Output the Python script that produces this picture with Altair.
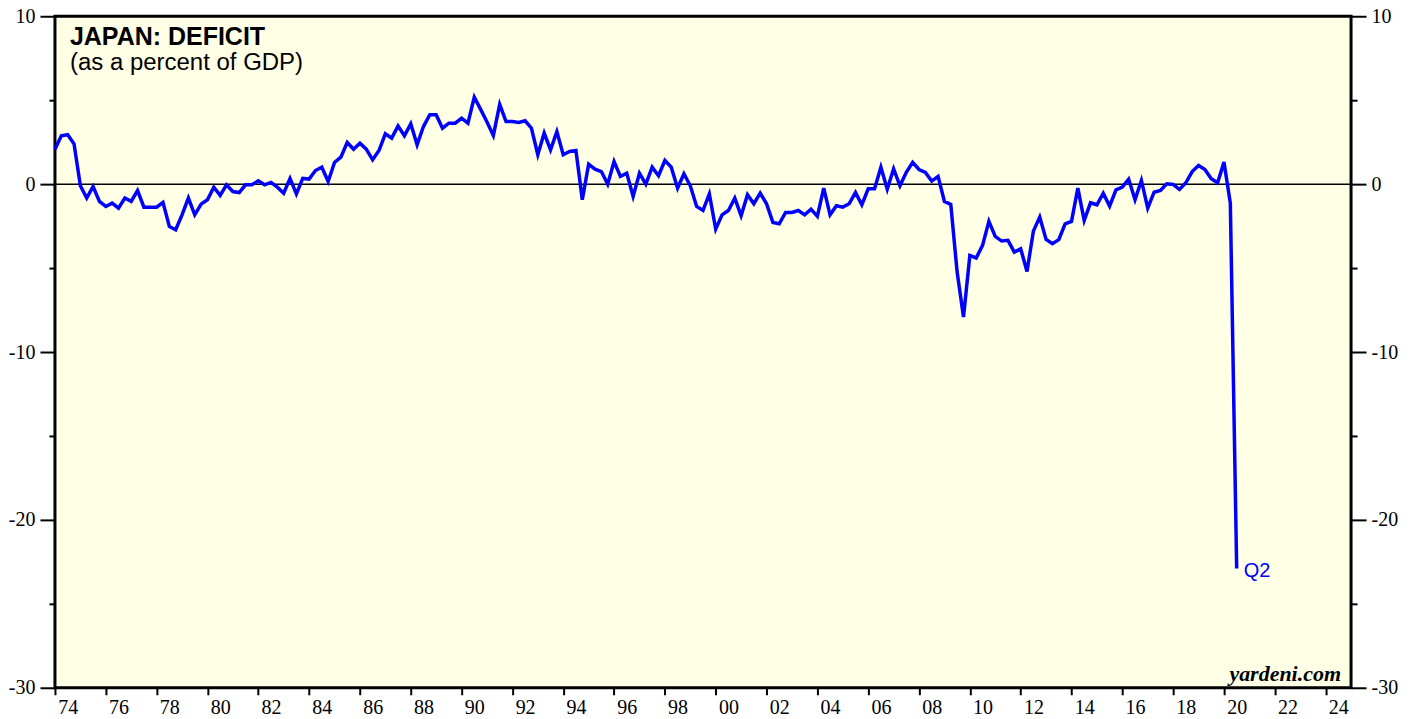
import altair as alt
import pandas as pd

# ---- data (quarterly) ----
start_year = 1974.0
quarter_step = 0.25
deficit = [
    2.08, 2.88, 2.94, 2.40, -0.10, -0.83, -0.14, -1.03, -1.33, -1.13,
    -1.43, -0.83, -1.03, -0.38, -1.37, -1.37, -1.37, -1.09, -2.52, -2.72,
    -1.83, -0.83, -1.83, -1.19, -0.93, -0.18, -0.67, -0.04, -0.44, -0.50,
    -0.04, -0.04, 0.20, -0.04, 0.10, -0.18, -0.54, 0.34, -0.58, 0.34,
    0.30, 0.81, 1.01, 0.16, 1.29, 1.61, 2.48, 2.08, 2.44, 2.08,
    1.45, 2.00, 3.00, 2.74, 3.47, 2.88, 3.59, 2.34, 3.43, 4.13,
    4.13, 3.33, 3.63, 3.63, 3.93, 3.63, 5.18, 4.45, 3.70, 2.90,
    4.75, 3.73, 3.73, 3.67, 3.77, 3.33, 1.75, 3.04, 2.04, 3.13,
    1.75, 1.94, 2.00, -0.93, 1.19, 0.89, 0.75, 0.00, 1.35, 0.46,
    0.65, -0.73, 0.65, 0.00, 1.01, 0.50, 1.41, 1.01, -0.24, 0.62,
    -0.10, -1.33, -1.57, -0.58, -2.68, -1.83, -1.57, -0.83, -1.88, -0.63,
    -1.17, -0.54, -1.17, -2.28, -2.36, -1.69, -1.69, -1.57, -1.83, -1.49,
    -1.92, -0.24, -1.83, -1.29, -1.37, -1.17, -0.50, -1.23, -0.28, -0.28,
    1.01, -0.30, 0.91, -0.10, 0.70, 1.30, 0.87, 0.70, 0.18, 0.46,
    -1.03, -1.21, -5.24, -7.92, -4.25, -4.40, -3.65, -2.22, -3.11, -3.39,
    -3.35, -4.05, -3.85, -5.20, -2.80, -1.96, -3.29, -3.55, -3.31, -2.36,
    -2.22, -0.24, -2.16, -1.11, -1.23, -0.54, -1.31, -0.34, -0.18, 0.30,
    -0.93, 0.22, -1.43, -0.48, -0.38, 0.02, -0.02, -0.32, 0.08, 0.75,
    1.11, 0.87, 0.32, 0.08, 1.31, -1.13, -22.90,
]
periods = [start_year + i * quarter_step for i in range(len(deficit))]
last_label = "Q2"
title_text = "JAPAN: DEFICIT"
subtitle_text = "(as a percent of GDP)"
source_text = "yardeni.com"
x_domain = [1974, 2025]
y_domain = [-30, 10]
x_tick_years = list(range(1974, 2026))
y_ticks = list(range(-30, 11, 5))
zero_level = [0]

df = pd.DataFrame({"t": periods, "v": deficit})
last = df.tail(1).assign(lab=last_label)
zero_df = pd.DataFrame({"z": zero_level})

W, H = 1297, 672
SERIF = "Liberation Serif"
SANS = "Liberation Sans"

xscale = alt.Scale(domain=x_domain, nice=False, zero=False)
yscale = alt.Scale(domain=y_domain, nice=False, zero=False)

xaxis = alt.Axis(
    values=x_tick_years,
    labelExpr="datum.value % 2 == 0 && datum.value < 2025 ? substring(toString(datum.value), 2, 4) : ''",
    labelOffset=W / 51 / 2,
    tickSize=7, tickWidth=2, tickColor="black",
    domain=False, grid=False, title=None,
    labelFont=SERIF, labelFontSize=20, labelColor="black", labelPadding=3,
    labelOverlap=False, labelFlush=False, labelBound=False,
)


def yaxis(orient):
    return alt.Axis(
        orient=orient,
        values=y_ticks,
        labelExpr="datum.value % 10 == 0 ? toString(datum.value) : ''",
        tickSize={"condition": {"test": "datum.value % 10 == 0", "value": 15}, "value": 6},
        tickWidth=2, tickColor="black",
        domain=False, grid=False, title=None,
        labelFont=SERIF, labelFontSize=20, labelColor="black", labelPadding=5,
        labelOverlap=False, labelFlush=False, labelBound=False,
    )


rule = alt.Chart(zero_df).mark_rule(color="black", strokeWidth=1.5).encode(
    y=alt.Y("z:Q", scale=yscale, axis=yaxis("right"))
)

line = alt.Chart(df).mark_line(color="#0000FF", strokeWidth=3.5).encode(
    x=alt.X("t:Q", scale=xscale, axis=xaxis),
    y=alt.Y("v:Q", scale=yscale, axis=yaxis("left")),
)

q2 = alt.Chart(last).mark_text(
    align="left", baseline="middle", dx=7, dy=2, font=SANS, fontSize=20, color="#0000FF"
).encode(x="t:Q", y="v:Q", text="lab:N")

t1 = alt.Chart(pd.DataFrame({"s": [title_text]})).mark_text(
    align="left", baseline="alphabetic", font=SANS, fontSize=25, fontWeight="bold", color="black"
).encode(x=alt.value(15), y=alt.value(29), text="s:N")

t2 = alt.Chart(pd.DataFrame({"s": [subtitle_text]})).mark_text(
    align="left", baseline="alphabetic", font=SANS, fontSize=24, color="black"
).encode(x=alt.value(15), y=alt.value(54), text="s:N")

t3 = alt.Chart(pd.DataFrame({"s": [source_text]})).mark_text(
    align="right", baseline="alphabetic", font=SERIF, fontSize=22, fontWeight="bold",
    fontStyle="italic", color="black"
).encode(x=alt.value(W - 10), y=alt.value(H - 7), text="s:N")

inner = alt.layer(line, q2, t1, t2, t3)

chart = (
    alt.layer(rule, inner)
    .resolve_scale(y="independent")
    .properties(
        width=W, height=H,
        autosize=alt.AutoSizeParams(type="none"),
        padding={"left": 47, "top": 8, "right": 60, "bottom": 30},
        background="white",
    )
    .configure_view(stroke="black", strokeWidth=3, fill="#FFFFE6")
)

chart.save("out.html", embed_options={"renderer": "svg", "actions": False})
